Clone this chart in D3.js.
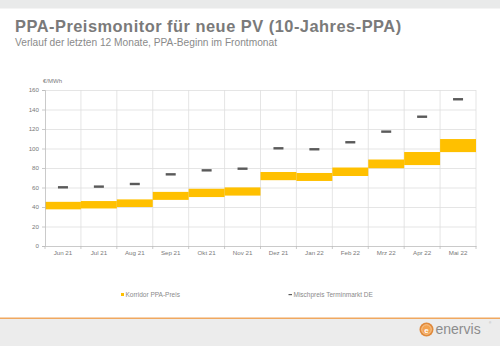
<!DOCTYPE html>
<html><head><meta charset="utf-8">
<script src="https://cdn.jsdelivr.net/npm/d3@7"></script>
<style>html,body{margin:0;padding:0;background:#fff;}svg{display:block;font-family:"Liberation Sans",Arial,sans-serif;}</style>
</head><body>
<script>
const months = ["Jun 21","Jul 21","Aug 21","Sep 21","Okt 21","Nov 21","Dez 21","Jan 22","Feb 22","Mrz 22","Apr 22","Mai 22"];
const corridorLow  = [37.6, 38.5, 40, 47.3, 50.2, 51.7, 67.5, 66.7, 71.8, 79.8, 83, 96.3];
const corridorHigh = [45.3, 46.1, 47.8, 55.5, 58.7, 60.1, 75.9, 74.9, 80.5, 88.7, 96.4, 109.7];
const mischpreis   = [60.2, 60.9, 63.6, 73.5, 77.6, 79.3, 100.2, 99.2, 106.4, 117.3, 132.6, 150.5];
const yTicks = [0,20,40,60,80,100,120,140,160];

const W=500,H=346;
const svg=d3.select("body").append("svg").attr("width",W).attr("height",H);

// header / footer
svg.append("rect").attr("x",0).attr("y",0).attr("width",W).attr("height",8.5).attr("fill","#e9eaea");
svg.append("rect").attr("x",0).attr("y",319).attr("width",W).attr("height",27).attr("fill","#ececec");
svg.append("rect").attr("x",0).attr("y",317.5).attr("width",W).attr("height",1.5).attr("fill","#f0a860");

svg.append("text").attr("x",15).attr("y",32).attr("font-size",16.4).attr("font-weight","bold")
  .attr("letter-spacing",0.5).attr("fill","#7a7a7a").text("PPA-Preismonitor für neue PV (10-Jahres-PPA)");
svg.append("text").attr("x",15).attr("y",46).attr("font-size",10.2)
  .attr("fill","#8a8a8a").text("Verlauf der letzten 12 Monate, PPA-Beginn im Frontmonat");

const x=d3.scaleBand().domain(months).range([45,476]).padding(0);
const y=d3.scaleLinear().domain([0,160]).range([246,90]);

// gridlines
const g=svg.append("g");
g.selectAll("line.h").data(yTicks.slice(1)).join("line")
  .attr("x1",45).attr("x2",476).attr("y1",d=>y(d)+0.5).attr("y2",d=>y(d)+0.5)
  .attr("stroke","#dedede").attr("stroke-width",0.8);
g.selectAll("line.v").data(months.map((m,i)=>i+1)).join("line")
  .attr("x1",i=>x.range()[0]+i*x.bandwidth()).attr("x2",i=>x.range()[0]+i*x.bandwidth())
  .attr("y1",90).attr("y2",246).attr("stroke","#dedede").attr("stroke-width",0.8);

// corridor bars
svg.selectAll("rect.bar").data(months).join("rect")
  .attr("x",d=>x(d)).attr("width",x.bandwidth())
  .attr("y",(d,i)=>y(corridorHigh[i])).attr("height",(d,i)=>y(corridorLow[i])-y(corridorHigh[i]))
  .attr("fill","#ffc000");

// mischpreis dashes
svg.selectAll("rect.dash").data(months).join("rect")
  .attr("x",d=>x(d)+x.bandwidth()/2-5).attr("width",10)
  .attr("y",(d,i)=>y(mischpreis[i])-1.2).attr("height",2.4)
  .attr("fill","#5a5a5a");

// axes
const yAxis=svg.append("g").attr("transform","translate(45,0)")
  .call(d3.axisLeft(y).tickValues(yTicks).tickSize(3).tickPadding(3));
const xAxis=svg.append("g").attr("transform","translate(0,246)")
  .call(d3.axisBottom(x).tickSize(0).tickPadding(5));
// x boundary ticks
svg.selectAll("line.xt").data(d3.range(13)).join("line")
  .attr("x1",i=>45+i*x.bandwidth()).attr("x2",i=>45+i*x.bandwidth())
  .attr("y1",246).attr("y2",249).attr("stroke","#bdbdbd").attr("stroke-width",0.8);
[yAxis,xAxis].forEach(a=>{
  a.select(".domain").attr("stroke","#bdbdbd").attr("stroke-width",0.8);
  a.selectAll(".tick line").attr("stroke","#bdbdbd").attr("stroke-width",0.8);
  a.selectAll("text").attr("font-size",6.2).attr("fill","#7a7a7a").attr("font-family","Liberation Sans,Arial,sans-serif");
});
svg.append("text").attr("x",43).attr("y",83).attr("font-size",6).attr("fill","#7a7a7a").text("€/MWh");

// legend
svg.append("rect").attr("x",121).attr("y",293).attr("width",3).attr("height",3).attr("fill","#ffc000");
svg.append("text").attr("x",125.5).attr("y",296.5).attr("font-size",6.5).attr("fill","#8a8a8a").text("Korridor PPA-Preis");
svg.append("rect").attr("x",288.5).attr("y",294).attr("width",3.5).attr("height",1.2).attr("fill","#5a5a5a");
svg.append("text").attr("x",293.5).attr("y",296.5).attr("font-size",6.5).attr("fill","#8a8a8a").text("Mischpreis Terminmarkt DE");

// logo
const lg=svg.append("g");
lg.append("circle").attr("cx",426.5).attr("cy",329.5).attr("r",7).attr("fill","#e08a3c");
lg.append("circle").attr("cx",426.5).attr("cy",329.5).attr("r",4.8).attr("fill","#f3a24f").attr("stroke","#fbd3a6").attr("stroke-width",0.8);
lg.append("text").attr("x",426.5).attr("y",332.5).attr("text-anchor","middle").attr("font-size",8).attr("font-weight","bold").attr("fill","#fff").text("e");
lg.append("text").attr("x",435.5).attr("y",334).attr("font-size",14).attr("fill","#8c8c8c").text("enervis");
lg.append("text").attr("x",489).attr("y",324).attr("font-size",3).attr("fill","#aaa").text("®");
</script>
</body></html>
